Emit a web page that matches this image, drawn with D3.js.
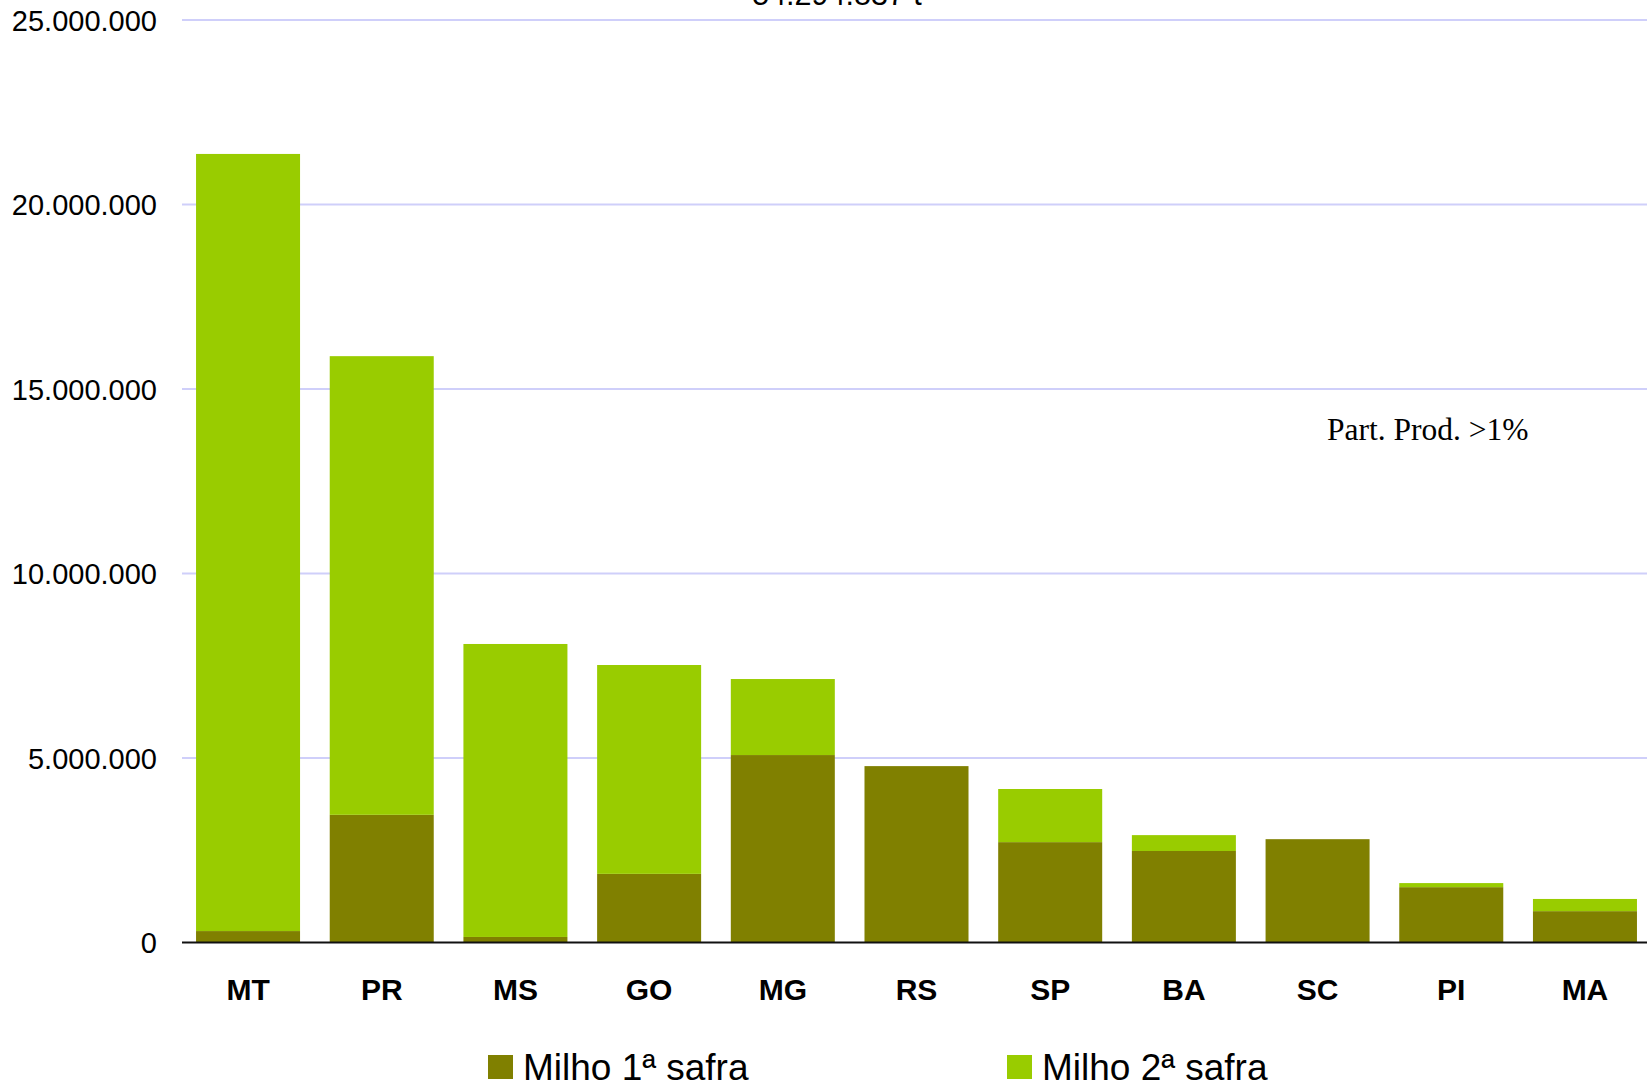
<!DOCTYPE html>
<html>
<head>
<meta charset="utf-8">
<script src="https://cdn.jsdelivr.net/npm/d3@7"></script>
<style>
  html, body { margin: 0; padding: 0; background: #fff; }
  svg { display: block; }
</style>
</head>
<body>
<script>
// Produção de milho por estado (t), 1ª e 2ª safra
const states = ["MT", "PR", "MS", "GO", "MG", "RS", "SP", "BA", "SC", "PI", "MA"];
const safra1 = [310000, 3460000, 150000, 1860000, 5080000, 4780000, 2720000, 2480000, 2800000, 1500000, 850000];
const safra2 = [21060000, 12430000, 7940000, 5660000, 2060000, 0, 1440000, 430000, 0, 110000, 330000];
const seriesNames = ["Milho 1ª safra", "Milho 2ª safra"];
const seriesColors = ["#808000", "#99cc00"];
const yTicks = [0, 5000000, 10000000, 15000000, 20000000, 25000000];
const titleText = "54.294.837 t";
const noteText = "Part. Prod. >1%";

const W = 1647, H = 1083;
const svg = d3.select("body").append("svg").attr("width", W).attr("height", H);

const ptBR = d3.formatLocale({ decimal: ",", thousands: ".", grouping: [3], currency: ["R$", ""] });
const fmt = ptBR.format(",d");

const x = d3.scaleBand().domain(states).range([182, 1651]).paddingInner(0.222).paddingOuter(0.105);
const y = d3.scaleLinear().domain([0, 25000000]).range([942.5, 20]);

// grid lines
svg.append("g").selectAll("line")
  .data(yTicks.filter(d => d > 0))
  .join("line")
  .attr("x1", 182).attr("x2", W)
  .attr("y1", d => y(d)).attr("y2", d => y(d))
  .attr("stroke", "#cfcffa").attr("stroke-width", 2);

// y axis labels
const yAxis = d3.axisLeft(y).tickValues(yTicks).tickFormat(fmt).tickSize(0).tickPadding(0);
const gy = svg.append("g").attr("transform", "translate(157,0)").call(yAxis);
gy.select(".domain").remove();
gy.selectAll("text")
  .attr("font-family", "'Liberation Sans', Arial, sans-serif")
  .attr("font-size", 29).attr("fill", "#000").attr("dy", "0.36em");

// stacked bars
const rows = states.map((s, i) => ({ state: s, s1: safra1[i], s2: safra2[i] }));
const stack = d3.stack().keys(["s1", "s2"])(rows);
svg.append("g").selectAll("g")
  .data(stack)
  .join("g")
  .attr("fill", (d, i) => seriesColors[i])
  .selectAll("rect")
  .data(d => d)
  .join("rect")
  .attr("x", d => x(d.data.state))
  .attr("width", x.bandwidth())
  .attr("y", d => y(d[1]))
  .attr("height", d => y(d[0]) - y(d[1]));

// baseline
svg.append("line")
  .attr("x1", 182).attr("x2", W)
  .attr("y1", y(0)).attr("y2", y(0))
  .attr("stroke", "#111").attr("stroke-width", 2);

// category labels
const xAxis = d3.axisBottom(x).tickSize(0).tickPadding(0);
const gx = svg.append("g").attr("transform", "translate(0,1000)").call(xAxis);
gx.select(".domain").remove();
gx.selectAll("text")
  .attr("font-family", "'Liberation Sans', Arial, sans-serif")
  .attr("font-size", 30).attr("font-weight", "bold").attr("fill", "#000")
  .attr("dy", 0).attr("y", 0);

// title (top)
svg.append("text")
  .attr("x", 837).attr("y", 5)
  .attr("text-anchor", "middle")
  .attr("font-family", "'Liberation Sans', Arial, sans-serif")
  .attr("font-size", 30.5).attr("fill", "#000")
  .text(titleText);

// note
svg.append("text")
  .attr("x", 1327).attr("y", 440)
  .attr("font-family", "'Liberation Serif', 'Times New Roman', serif")
  .attr("font-size", 31.5).attr("fill", "#000")
  .text(noteText);

// legend
const legendX = [488, 1007];
const lg = svg.append("g").selectAll("g")
  .data(seriesNames)
  .join("g")
  .attr("transform", (d, i) => `translate(${legendX[i]},1055)`);
lg.append("rect").attr("width", 25).attr("height", 24).attr("fill", (d, i) => seriesColors[i]);
lg.append("text")
  .attr("x", 35).attr("y", 24.5)
  .attr("font-family", "'Liberation Sans', Arial, sans-serif")
  .attr("font-size", 37).attr("fill", "#000")
  .text(d => d);
</script>
</body>
</html>
